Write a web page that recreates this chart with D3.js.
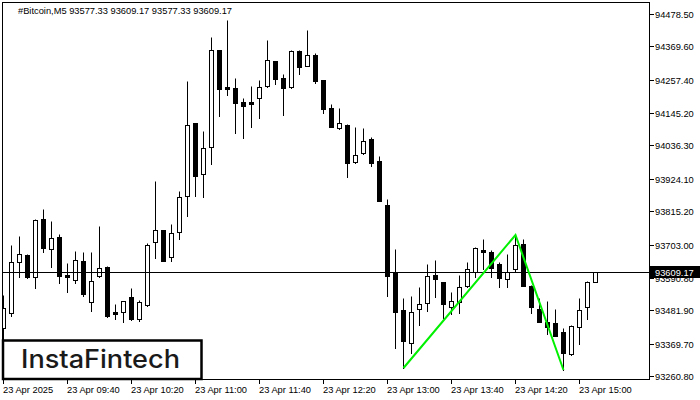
<!DOCTYPE html>
<html><head><meta charset="utf-8">
<script src="https://cdn.jsdelivr.net/npm/d3@7"></script>
<style>
body{margin:0;background:#fff;}
svg{display:block;font-family:"Liberation Sans",Arial,sans-serif;}
</style>
</head><body>
<svg id="chart" width="700" height="400"></svg>
<script>
const symbolTitle = "#Bitcoin,M5  93577.33 93609.17 93577.33 93609.17";
const times = [
"09:00","09:05","09:10","09:15","09:20","09:25","09:30","09:35","09:40","09:45","09:50","09:55",
"10:00","10:05","10:10","10:15","10:20","10:25","10:30","10:35","10:40","10:45","10:50","10:55",
"11:00","11:05","11:10","11:15","11:20","11:25","11:30","11:35","11:40","11:45","11:50","11:55",
"12:00","12:05","12:10","12:15","12:20","12:25","12:30","12:35","12:40","12:45","12:50","12:55",
"13:00","13:05","13:10","13:15","13:20","13:25","13:30","13:35","13:40","13:45","13:50","13:55",
"14:00","14:05","14:10","14:15","14:20","14:25","14:30","14:35","14:40","14:45","14:50","14:55",
"15:00","15:05","15:10"];
const opens = [
93422.26,93472.72,93644.27,93667.82,93593.81,93788.92,93688.00,93728.37,93600.54,93583.72,93647.64,93509.72,
93597.18,93627.45,93475.00,93476.08,93526.54,93452.53,93499.63,93711.55,93751.91,93661.09,93745.19,93866.28,
94111.84,93940.29,94031.11,94357.40,94232.94,94229.57,94182.48,94182.48,94195.94,94236.30,94320.40,94263.21,
94232.94,94354.04,94303.58,94340.58,94256.49,94162.30,94095.02,94105.11,93980.65,94010.93,94058.02,93984.02,
93836.01,93610.63,93482.81,93371.80,93486.17,93506.36,93600.54,93577.00,93492.90,93509.72,93563.54,93610.63,
93684.64,93677.91,93637.54,93587.09,93620.73,93704.82,93563.54,93486.17,93442.44,93439.08,93408.81,93334.80,
93425.62,93492.90,93577.33];
const highs = [
93533.27,93701.46,93731.73,93671.18,93788.92,93822.55,93782.19,93738.46,93640.91,93681.27,93677.91,93677.91,
93765.37,93630.00,93502.99,93514.00,93556.81,93516.45,93708.18,93916.74,93753.00,93772.10,93883.10,94253.12,
94113.00,94084.93,94401.13,94359.00,94458.31,94263.21,94195.94,94236.30,94256.49,94391.04,94322.00,94276.67,
94357.40,94357.40,94424.68,94347.31,94258.00,94175.75,94162.30,94107.00,94098.39,94095.02,94064.75,94000.84,
93856.19,93688.00,93523.17,93529.90,93560.18,93637.54,93651.00,93578.00,93543.36,93600.54,93644.27,93694.73,
93721.64,93684.64,93644.27,93671.18,93735.09,93721.64,93566.90,93523.17,93513.08,93486.17,93422.26,93432.35,
93523.17,93580.36,93609.17];
const lows = [
93365.08,93462.63,93593.81,93590.45,93556.81,93677.91,93627.45,93573.63,93543.36,93573.63,93529.90,93479.45,
93593.81,93459.26,93452.53,93442.44,93449.17,93445.81,93497.00,93657.73,93646.00,93647.64,93721.64,93799.01,
93866.28,93862.92,93973.93,94135.39,94206.03,94078.20,94061.38,94098.39,94128.66,94234.00,94243.03,94138.75,
94229.57,94276.67,94302.00,94246.39,94145.48,94097.00,94091.66,93930.20,93977.29,94009.00,93967.20,93848.00,
93529.90,93354.98,93287.71,93338.16,93432.35,93479.45,93526.54,93455.90,93469.35,93472.72,93560.18,93593.81,
93620.73,93593.81,93560.18,93560.18,93610.63,93562.00,93472.72,93441.00,93402.08,93394.00,93280.98,93331.44,
93368.44,93452.53,93577.33];
const closes = [
93489.54,93644.27,93671.18,93593.81,93785.55,93691.37,93725.00,93597.18,93593.81,93651.00,93536.63,93580.36,
93624.09,93462.63,93469.35,93513.08,93452.53,93509.72,93701.46,93751.91,93647.64,93741.82,93862.92,94105.11,
93933.56,94027.75,94357.40,94226.21,94226.21,94179.12,94169.03,94175.75,94232.94,94323.76,94259.85,94229.57,
94354.04,94300.21,94340.58,94253.12,94158.93,94098.39,94111.84,93977.29,94004.20,94051.29,93977.29,93849.46,
93597.18,93476.08,93378.53,93476.08,93502.99,93597.18,93587.09,93502.99,93513.08,93560.18,93620.73,93691.37,
93677.91,93624.09,93590.45,93610.63,93701.46,93563.54,93492.90,93442.44,93425.62,93395.35,93338.16,93428.99,
93482.81,93577.00,93609.17];
const priceTicks = [94478.50,94369.60,94257.40,94145.20,94036.30,93924.10,93815.20,93703.00,93590.80,93481.90,93369.70,93260.80];
const timeTicks = ["09:00","09:40","10:20","11:00","11:40","12:20","13:00","13:40","14:20","15:00"];
const timeTickLabels = ["23 Apr 2025","23 Apr 09:40","23 Apr 10:20","23 Apr 11:00","23 Apr 11:40","23 Apr 12:20","23 Apr 13:00","23 Apr 13:40","23 Apr 14:20","23 Apr 15:00"];
const lastPrice = 93609.17;
const patternTimes = ["13:10","14:20","14:50"];
const patternPrices = [93287.71,93735.09,93280.98];
const logoText = "InstaFintech";

const svg = d3.select("#chart");
const FONT = 9.3;
const x = d3.scalePoint().domain(times).range([3, 595]);
const y = d3.scaleLinear().domain([93260.8, 94478.5]).range([376, 14]);
const snap = v => Math.round(v) + 0.5;

svg.append("rect").attr("width",700).attr("height",400).attr("fill","#fff");
svg.append("defs").append("clipPath").attr("id","plot")
  .append("rect").attr("x",3).attr("y",3).attr("width",646).attr("height",376);

const candles = svg.append("g").attr("clip-path","url(#plot)");
times.forEach((t,i) => {
  const cx = snap(x(t));
  const o = opens[i], c = closes[i], h = highs[i], l = lows[i];
  const bull = c >= o;
  candles.append("line").attr("x1",cx).attr("x2",cx)
    .attr("y1",snap(y(h))).attr("y2",snap(y(l))+0.5)
    .attr("stroke","#000").attr("stroke-width",1);
  const top = snap(y(Math.max(o,c))), bot = snap(y(Math.min(o,c)));
  const hgt = Math.max(bot-top, 1);
  candles.append("rect").attr("x",cx-2).attr("y",top).attr("width",4).attr("height",hgt)
    .attr("fill", bull ? "#fff" : "#000").attr("stroke","#000").attr("stroke-width",1)
    .attr("shape-rendering","crispEdges");
});

// last price line
svg.append("line").attr("x1",3).attr("x2",649).attr("y1",snap(y(lastPrice))).attr("y2",snap(y(lastPrice)))
  .attr("stroke","#000").attr("stroke-width",1).attr("shape-rendering","crispEdges");

// pattern
svg.append("path").attr("clip-path","url(#plot)")
  .attr("d", d3.line()(patternTimes.map((t,k)=>[x(t)+0.5, y(patternPrices[k])])))
  .attr("fill","none").attr("stroke","#00f000").attr("stroke-width",2);

// frame
svg.append("rect").attr("x",2.5).attr("y",2.5).attr("width",647).attr("height",377)
  .attr("fill","none").attr("stroke","#000").attr("stroke-width",1).attr("shape-rendering","crispEdges");

// price axis
const pa = svg.append("g");
priceTicks.forEach(p => {
  const yy = snap(y(p));
  pa.append("line").attr("x1",649).attr("x2",654).attr("y1",yy).attr("y2",yy).attr("stroke","#000").attr("shape-rendering","crispEdges");
  pa.append("text").attr("x",655).attr("y",yy+3.5).attr("font-size",FONT).attr("fill","#000").text(p.toFixed(2));
});
const ly = y(lastPrice);
pa.append("rect").attr("x",650).attr("y",Math.round(ly)-6).attr("width",50).attr("height",12).attr("fill","#000");
pa.append("text").attr("x",655).attr("y",Math.round(ly)+3.5).attr("font-size",FONT).attr("fill","#fff").text(lastPrice.toFixed(2));

// time axis
const ta = svg.append("g");
timeTicks.forEach((t,k) => {
  const xx = snap(x(t));
  ta.append("line").attr("x1",xx).attr("x2",xx).attr("y1",379).attr("y2",384).attr("stroke","#000").attr("shape-rendering","crispEdges");
  ta.append("text").attr("x",xx-0.5).attr("y",392.5).attr("font-size",FONT).attr("fill","#000").text(timeTickLabels[k]);
});

// title
svg.append("text").attr("x",18).attr("y",14).attr("font-size",FONT).attr("fill","#000").text(symbolTitle);

// logo
svg.append("rect").attr("x",3).attr("y",340.5).attr("width",198.5).attr("height",38.5)
  .attr("fill","#fff").attr("stroke","#000").attr("stroke-width",2.5);
svg.append("text").attr("x",21).attr("y",367.5).attr("font-family","Inter, Lato, sans-serif")
  .attr("font-weight",500).attr("font-size",25).attr("fill","#1a1a1a")
  .attr("textLength",159).attr("lengthAdjust","spacingAndGlyphs").text(logoText);
</script>
</body></html>
